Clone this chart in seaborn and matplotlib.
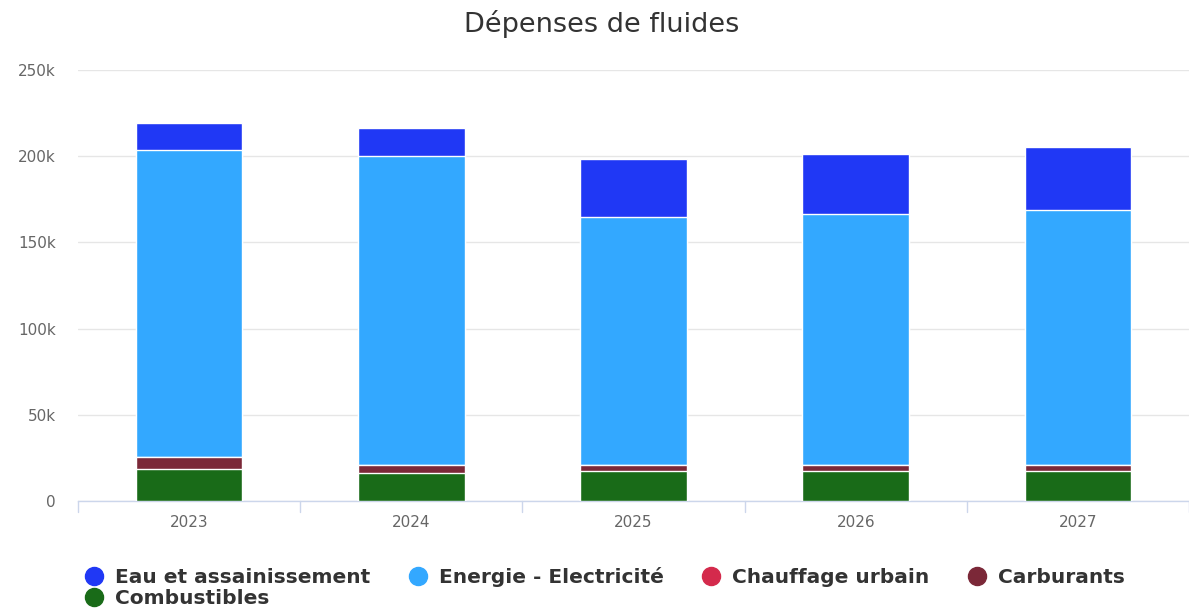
import numpy as np
import pandas as pd
import seaborn as sns
from matplotlib import pyplot as plt
from matplotlib.lines import Line2D
from matplotlib.ticker import FuncFormatter

years = ['2023', '2024', '2025', '2026', '2027']
combustibles = [18300, 16300, 17500, 17500, 17500]
carburants = [7200, 4700, 3500, 3500, 3500]
chauffage_urbain = [0, 0, 0, 0, 0]
energie = [178100, 179100, 143700, 145500, 147800]
eau = [15700, 16300, 33700, 34800, 36400]

series = ['Eau et assainissement', 'Energie - Electricité', 'Chauffage urbain',
          'Carburants', 'Combustibles']
colors = ['#2038f5', '#33a8ff', '#d42a4c', '#7b2838', '#196b18']


def main():
    sns.set_style('white')
    plt.rcParams['font.family'] = ['DejaVu Sans']

    # stacked from the bottom: combustibles, carburants, chauffage, energie, eau
    layers = [combustibles, carburants, chauffage_urbain, energie, eau]
    cum = np.cumsum(np.array(layers, dtype=float), axis=0)
    stack_colors = colors[::-1]

    fig = plt.figure(figsize=(11.89, 6.10), dpi=100)
    ax = fig.add_axes([0.0656, 0.1787, 0.9344, 0.7066])

    # draw tallest cumulative first so each layer sits on top of the next
    for i in range(len(layers) - 1, -1, -1):
        df = pd.DataFrame({'year': years, 'value': cum[i]})
        sns.barplot(data=df, x='year', y='value', color=stack_colors[i],
                    saturation=1, width=0.48, edgecolor='white', linewidth=1,
                    ax=ax, zorder=3)

    ax.set_ylim(0, 250000)
    ax.set_xlim(-0.5, 4.5)
    ax.set_yticks(np.arange(0, 250001, 50000))
    ax.yaxis.set_major_formatter(FuncFormatter(
        lambda v, _: '0' if v == 0 else f'{int(v / 1000)}k'))
    ax.grid(axis='y', color='#e6e6e6', linewidth=1, zorder=0)
    ax.set_axisbelow(True)
    for s in ['top', 'right', 'left']:
        ax.spines[s].set_visible(False)
    ax.spines['bottom'].set_color('#ccd6eb')
    ax.spines['bottom'].set_linewidth(1)
    ax.set_xlabel('')
    ax.set_ylabel('')
    ax.tick_params(axis='y', length=0, pad=16, labelsize=11, labelcolor='#666666')
    ax.tick_params(axis='x', length=0, pad=10, labelsize=11, labelcolor='#666666')
    # category boundary ticks
    for b in np.arange(-0.5, 4.6, 1):
        ax.plot([b, b], [0, -0.025], transform=ax.get_xaxis_transform(),
                color='#ccd6eb', linewidth=1, clip_on=False)

    fig.text(0.506, 0.960, 'Dépenses de fluides', ha='center', va='center',
             fontsize=19.5, color='#333333')

    # matplotlib fills legend columns first, so reorder to get row-wise layout
    order = [0, 4, 1, 2, 3]
    handles = [Line2D([], [], marker='o', linestyle='', markersize=13,
                      markerfacecolor=colors[k], markeredgecolor=colors[k])
               for k in order]
    labels = [series[k] for k in order]
    leg = fig.legend(handles, labels, loc='upper left', ncol=4,
                     bbox_to_anchor=(0.0705, 0.071), frameon=False,
                     handletextpad=0.55, columnspacing=1.85, labelspacing=0.1,
                     handlelength=1.0, borderaxespad=0, borderpad=0,
                     prop={'weight': 'bold', 'size': 14.5})
    for t in leg.get_texts():
        t.set_color('#333333')

    plt.savefig('out.png', dpi=100)


if __name__ == '__main__':
    main()
